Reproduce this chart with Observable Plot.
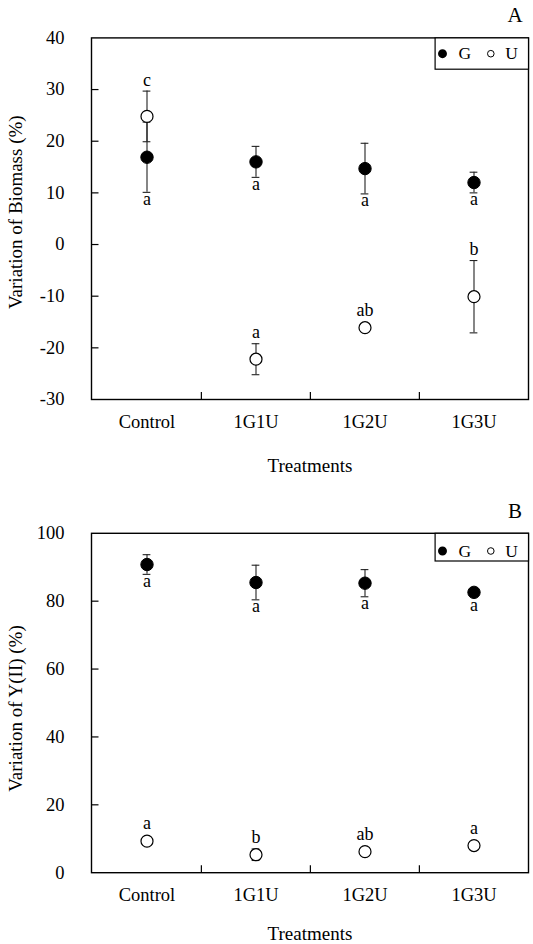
<!DOCTYPE html>
<html><head><meta charset="utf-8">
<script src="https://cdn.jsdelivr.net/npm/d3@7"></script>
<script src="https://cdn.jsdelivr.net/npm/@observablehq/plot@0.6"></script>
<style>body{margin:0;background:#fff} #chart svg{display:block}</style>
</head><body><div id="chart"></div>
<script>
const treatments = ["Control", "1G1U", "1G2U", "1G3U"];
const seriesNames = ["G", "U"];

// Panel A: Variation of Biomass (%)
const biomassG = [16.9, 16.0, 14.7, 12.0];
const biomassGse = [6.8, 3.0, 4.9, 2.0];
const biomassU = [24.8, -22.2, -16.1, -10.1];
const biomassUse = [4.9, 3.0, 0.5, 7.0];
const biomassGletters = ["a", "a", "a", "a"];
const biomassUletters = ["c", "a", "ab", "b"];
const biomassTicks = [-30, -20, -10, 0, 10, 20, 30, 40];

// Panel B: Variation of Y(II) (%)
const yiiG = [90.8, 85.5, 85.3, 82.6];
const yiiGse = [2.9, 5.1, 4.0, 1.0];
const yiiU = [9.3, 5.3, 6.2, 8.0];
const yiiUse = [0.4, 1.7, 0.4, 0.4];
const yiiGletters = ["a", "a", "a", "a"];
const yiiUletters = ["a", "b", "ab", "a"];
const yiiTicks = [0, 20, 40, 60, 80, 100];

const font = "'Liberation Serif', 'Times New Roman', Times, serif";

function panel(o) {
  const width = 533, ml = 91, mr = 5;
  const fw = width - ml - mr, fh = o.height - o.mt - o.mb;
  const k = fh / (o.domain[1] - o.domain[0]);
  const bw = fw / treatments.length;
  const minSe = 6.5 / k;
  const rowsG = treatments.map((t, i) => ({t, s: seriesNames[0], v: o.G[i], se: o.Gse[i], l: o.Gl[i]}));
  const rowsU = treatments.map((t, i) => ({t, s: seriesNames[1], v: o.U[i], se: o.Use[i], l: o.Ul[i]}));
  const rows = rowsG.concat(rowsU);
  const capInset = (bw - 8) / 2;
  const inner = o.ticks.filter(d => d > o.domain[0] && d < o.domain[1]);
  return Plot.plot({
    width, height: o.height,
    marginTop: o.mt, marginBottom: o.mb, marginLeft: ml, marginRight: mr,
    style: {fontFamily: font, fontSize: "18px", color: "#000", background: "#fff"},
    x: {domain: treatments, type: "band", padding: 0, axis: null},
    y: {domain: o.domain, axis: null},
    marks: [
      Plot.axisX({tickSize: 0, tickPadding: 15, fontSize: 18.5, label: null}),
      Plot.axisY({ticks: o.ticks, tickFormat: d => String(d), tickSize: 0, tickPadding: 27, fontSize: 18.5, label: null}),
      Plot.tickY(inner, {y: d => d, insetRight: fw - 7.5, stroke: "#000", strokeWidth: 1.2}),
      Plot.ruleX(treatments.slice(1), {x: d => d, dx: -bw / 2, insetTop: fh - 7, stroke: "#000", strokeWidth: 1.2}),
      Plot.ruleX(rows, {x: "t", y1: d => d.v - d.se, y2: d => d.v + d.se, stroke: "#222", strokeWidth: 1.1}),
      Plot.tickY(rows, {x: "t", y: d => d.v + d.se, insetLeft: capInset, insetRight: capInset, stroke: "#222", strokeWidth: 1.1}),
      Plot.tickY(rows, {x: "t", y: d => d.v - d.se, insetLeft: capInset, insetRight: capInset, stroke: "#222", strokeWidth: 1.1}),
      Plot.dot(rowsG, {x: "t", y: "v", r: 6.2, fill: "#000", stroke: "#000", strokeWidth: 1}),
      Plot.dot(rowsU, {x: "t", y: "v", r: 6, fill: "#fff", stroke: "#000", strokeWidth: 1.2}),
      Plot.text(rowsG, {x: "t", y: d => d.v - Math.max(d.se, minSe), text: "l", dy: 6.5, fontSize: 18, lineAnchor: "middle"}),
      Plot.text(rowsU, {x: "t", y: d => d.v + Math.max(d.se, minSe), text: "l", dy: -11, fontSize: 18, lineAnchor: "middle"}),
      Plot.frame({stroke: "#000", strokeWidth: 1.4}),
      // legend box
      Plot.frame({insetLeft: fw - 93.4, insetBottom: fh - o.legendH, stroke: "#000", strokeWidth: 1.2, fill: "#fff"}),
      Plot.dot([0], {frameAnchor: "top-right", dx: -86, dy: o.legendDy, r: 3.7, fill: "#000", stroke: "#000"}),
      Plot.text([seriesNames[0]], {frameAnchor: "top-right", dx: -63.7, dy: o.legendDy, text: d => d, fontSize: 17.5, textAnchor: "middle", lineAnchor: "middle"}),
      Plot.dot([0], {frameAnchor: "top-right", dx: -37.7, dy: o.legendDy, r: 3.3, fill: "#fff", stroke: "#000", strokeWidth: 1}),
      Plot.text([seriesNames[1]], {frameAnchor: "top-right", dx: -17, dy: o.legendDy, text: d => d, fontSize: 17.5, textAnchor: "middle", lineAnchor: "middle"}),
      // panel letter
      Plot.text([o.title], {frameAnchor: "top-right", dx: -13.5, dy: o.titleDy, text: d => d, fontSize: 21, textAnchor: "middle", lineAnchor: "middle"}),
      // y label
      Plot.text([o.label], {frameAnchor: "left", rotate: -90, dx: -(ml - 15.5), dy: o.labelDy, text: d => d, fontSize: 19, textAnchor: "middle", lineAnchor: "middle"}),
      // x label
      Plot.text(["Treatments"], {frameAnchor: "bottom", dy: o.xlabDy, text: d => d, fontSize: 19, textAnchor: "middle", lineAnchor: "middle"})
    ]
  });
}

const chart = document.getElementById("chart");
chart.append(panel({
  title: "A", label: "Variation of Biomass (%)",
  domain: [-30, 40], ticks: biomassTicks,
  G: biomassG, Gse: biomassGse, U: biomassU, Use: biomassUse,
  Gl: biomassGletters, Ul: biomassUletters,
  height: 482, mt: 37.4, mb: 83,
  legendH: 31.3, legendDy: 15.8, titleDy: -22.4, labelDy: -6.5, xlabDy: 66.5
}));
chart.append(panel({
  title: "B", label: "Variation of Y(II) (%)",
  domain: [0, 100], ticks: yiiTicks,
  G: yiiG, Gse: yiiGse, U: yiiU, Use: yiiUse,
  Gl: yiiGletters, Ul: yiiUletters,
  height: 462, mt: 50.8, mb: 71.8,
  legendH: 27.7, legendDy: 17.7, titleDy: -22.3, labelDy: 5.5, xlabDy: 61.5
}));
</script>
</body></html>
